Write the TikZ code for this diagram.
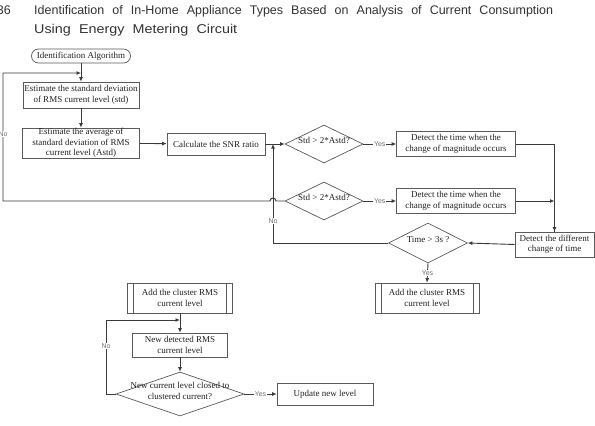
\documentclass[tikz,border=0pt]{standalone}
\usepackage{fontspec}
\setmainfont{Liberation Serif}
\newfontfamily\sansf{Liberation Sans}
\newfontfamily\titlef[FakeStretch=1.12]{Liberation Sans}
\usetikzlibrary{shapes.geometric,arrows.meta}
\definecolor{ln}{HTML}{3A3A3A}
\definecolor{bd}{HTML}{5A5A5A}
\definecolor{tx}{HTML}{222222}
\definecolor{lb}{HTML}{707070}
\definecolor{tt}{HTML}{333333}
\newcommand{\dtext}[1]{\smash{\makebox[0pt]{\begin{tabular}[c]{@{}c@{}}#1\end{tabular}}}}
\begin{document}
\begin{tikzpicture}[x=1pt,y=-1pt,
 box/.style={draw=bd, line width=0.7pt, rectangle, inner sep=0pt, align=center, font=\fontsize{9}{10.5}\selectfont, text=tx},
 proc/.style={box, path picture={\draw[bd, line width=0.6pt] ([xshift=6pt]path picture bounding box.north west) -- ([xshift=6pt]path picture bounding box.south west) ([xshift=-6pt]path picture bounding box.north east) -- ([xshift=-6pt]path picture bounding box.south east);}},
 dia/.style={draw=bd, line width=0.7pt, diamond, inner sep=0pt, font=\fontsize{9}{10.5}\selectfont, text=tx},
 conn/.style={draw=ln, line width=0.9pt},
 arr/.style={conn, -{Latex[length=4.5pt,width=4pt]}},
 lab/.style={fill=white, inner sep=0.6pt, font=\sansf\fontsize{7}{8}\selectfont, text=lb},
 ttl/.style={inner sep=0pt, font=\sansf\fontsize{12.5}{14}\selectfont, text=tt}
]
\fill[white] (0,0) rectangle (595,426);
\useasboundingbox (0,0) rectangle (595,426);
% title
\node[ttl, anchor=base east] (pg) at (11,14) {36};
\node[ttl, anchor=base west] (t1) at (34,14) {\makebox[519pt][s]{Identification of In-Home Appliance Types Based on Analysis of Current Consumption}};
\node[ttl, anchor=base west, font=\titlef\fontsize{12.8}{15}\selectfont] (t2) at (34,33) {\makebox[203pt][s]{Using Energy Metering Circuit}};
% nodes
\node[box, rounded corners=7pt, minimum width=99pt, minimum height=14pt] (start) at (81,56) {Identification Algorithm};
\node[box, minimum width=116pt, minimum height=26pt] (b1) at (81,95) {Estimate the standard deviation\\of RMS current level (std)};
\node[box, minimum width=117pt, minimum height=30pt] (b2) at (81,143) {Estimate the average of\\standard deviation of RMS\\current level (Astd)};
\node[box, minimum width=98pt, minimum height=22pt] (snr) at (216,144) {Calculate the SNR ratio};
\node[dia, minimum width=78pt, minimum height=38pt] (d1) at (324,144) {\dtext{Std > 2*Astd?}};
\node[box, minimum width=119pt, minimum height=25pt] (m1) at (456,144) {Detect the time when the\\change of magnitude occurs};
\node[dia, minimum width=78pt, minimum height=38pt] (d2) at (324,201) {\dtext{Std > 2*Astd?}};
\node[box, minimum width=119pt, minimum height=25pt] (m2) at (456,201) {Detect the time when the\\change of magnitude occurs};
\node[box, minimum width=79pt, minimum height=25pt] (dt) at (554.5,244.5) {Detect the different\\change of time};
\node[dia, minimum width=79pt, minimum height=40pt] (d3) at (428,243) {\dtext{Time > 3s ?}};
\node[proc, minimum width=104pt, minimum height=30pt] (a3) at (427,298) {Add the cluster RMS\\current level};
\node[proc, minimum width=105pt, minimum height=30pt] (a4) at (180,298) {Add the cluster RMS\\current level};
\node[box, minimum width=95pt, minimum height=24pt] (nd) at (180,345) {New detected RMS\\current level};
\node[dia, minimum width=128pt, minimum height=44pt] (d4) at (180,394) {\dtext{New current level closed to\\clustered current?}};
\node[box, minimum width=96pt, minimum height=22pt] (upd) at (325,394) {Update new level};
% junctions
\coordinate (j1) at (81,73);
\coordinate (j2) at (273,144);
\coordinate (j3) at (180,320);
% connectors
\draw[arr] (start) -- (b1);
\draw[arr] (b1) -- (b2);
\draw[arr] (b2) -- (snr);
\draw[arr] (snr) -- (d1);
\draw[arr] (d1) -- node[lab]{Yes} (m1);
\draw[conn] (m1.east) -- (dt.north |- m1.east) -- (dt.north);
\draw[arr] (dt.north |- m1.east) -- (dt.north);
\draw[arr] (m2.east) -- (dt.north |- m2.east);
\draw[arr] (d2) -- node[lab]{Yes} (m2);
\draw[arr] (dt.west) -- (d3.east);
\draw[arr] (d3.south) -- node[lab]{Yes} (a3.north);
\draw[arr] (d3.west) -- (j2 |- d3.west) -- node[lab, pos=0.22]{No} (j2);
\draw[arr] (d2.west) -- (276,201) arc[start angle=0, end angle=-180, radius=3] -- (3,201) -- node[lab, pos=0.52]{No} (3,73) -- (j1);
\draw[arr] (a4) -- (nd);
\draw[arr] (nd) -- (d4);
\draw[arr] (d4) -- node[lab]{Yes} (upd);
\draw[arr] (d4.west) -- (106,394) -- node[lab, pos=0.65]{No} (106,320) -- (j3);
\end{tikzpicture}
\end{document}
